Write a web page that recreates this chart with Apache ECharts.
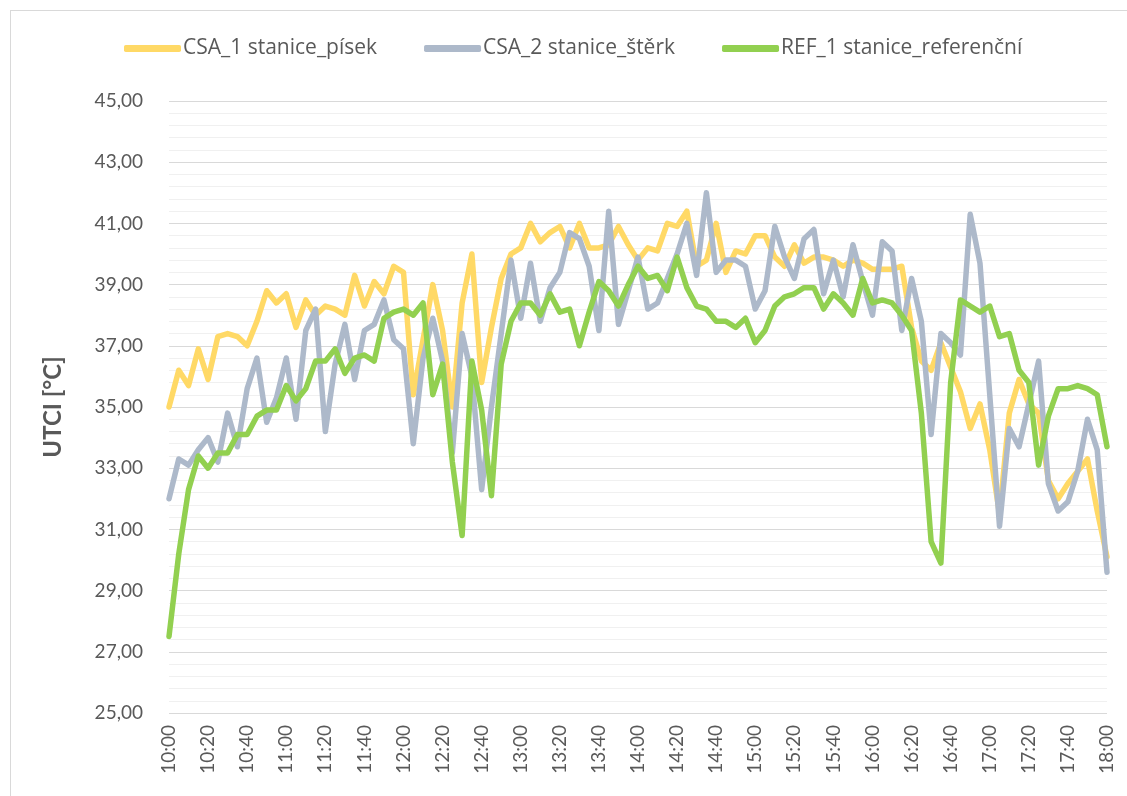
<!DOCTYPE html>
<html>
<head>
<meta charset="utf-8">
<script src="https://cdn.jsdelivr.net/npm/echarts@6/dist/echarts.min.js"></script>
<style>
  html, body { margin: 0; padding: 0; background: #fff; }
  #frame { position: absolute; left: 10px; top: 10px; width: 1130px; height: 800px; border: 1px solid #d9d9d9; }
  #chart { position: absolute; left: 0; top: 0; width: 1127px; height: 796px; }
</style>
</head>
<body>
<div id="frame"></div>
<div id="chart"></div>
<script>
// time of measurement, every 5 minutes
const times = [
  '10:00','10:05','10:10','10:15','10:20','10:25','10:30','10:35','10:40','10:45','10:50','10:55',
  '11:00','11:05','11:10','11:15','11:20','11:25','11:30','11:35','11:40','11:45','11:50','11:55',
  '12:00','12:05','12:10','12:15','12:20','12:25','12:30','12:35','12:40','12:45','12:50','12:55',
  '13:00','13:05','13:10','13:15','13:20','13:25','13:30','13:35','13:40','13:45','13:50','13:55',
  '14:00','14:05','14:10','14:15','14:20','14:25','14:30','14:35','14:40','14:45','14:50','14:55',
  '15:00','15:05','15:10','15:15','15:20','15:25','15:30','15:35','15:40','15:45','15:50','15:55',
  '16:00','16:05','16:10','16:15','16:20','16:25','16:30','16:35','16:40','16:45','16:50','16:55',
  '17:00','17:05','17:10','17:15','17:20','17:25','17:30','17:35','17:40','17:45','17:50','17:55',
  '18:00'
];

const csa1Pisek = [
  35.0, 36.2, 35.7, 36.9, 35.9, 37.3, 37.4, 37.3, 37.0, 37.8, 38.8, 38.4,
  38.7, 37.6, 38.5, 38.0, 38.3, 38.2, 38.0, 39.3, 38.3, 39.1, 38.7, 39.6,
  39.4, 35.4, 37.2, 39.0, 37.5, 35.0, 38.4, 40.0, 35.8, 37.6, 39.2, 40.0,
  40.2, 41.0, 40.4, 40.7, 40.9, 40.2, 41.0, 40.2, 40.2, 40.3, 40.9, 40.3,
  39.8, 40.2, 40.1, 41.0, 40.9, 41.4, 39.6, 39.8, 41.0, 39.4, 40.1, 40.0,
  40.6, 40.6, 39.9, 39.6, 40.3, 39.7, 39.9, 39.9, 39.8, 39.6, 39.8, 39.7,
  39.5, 39.5, 39.5, 39.6, 37.6, 36.5, 36.2, 37.1, 36.3, 35.5, 34.3, 35.1,
  33.6, 31.5, 34.8, 35.9, 35.1, 34.8, 32.6, 32.0, 32.5, 32.9, 33.3, 31.6,
  30.1
];

const csa2Sterk = [
  32.0, 33.3, 33.1, 33.6, 34.0, 33.2, 34.8, 33.7, 35.6, 36.6, 34.5, 35.3,
  36.6, 34.6, 37.5, 38.2, 34.2, 36.4, 37.7, 35.9, 37.5, 37.7, 38.5, 37.2,
  36.9, 33.8, 36.6, 37.9, 36.5, 33.5, 37.4, 36.0, 32.3, 35.0, 37.4, 39.8,
  37.9, 39.7, 37.8, 38.9, 39.4, 40.7, 40.5, 39.6, 37.5, 41.4, 37.7, 38.8,
  39.9, 38.2, 38.4, 39.2, 40.0, 41.0, 39.3, 42.0, 39.4, 39.8, 39.8, 39.6,
  38.2, 38.8, 40.9, 39.9, 39.2, 40.5, 40.8, 38.7, 39.8, 38.6, 40.3, 39.1,
  38.0, 40.4, 40.1, 37.5, 39.2, 37.8, 34.1, 37.4, 37.1, 36.7, 41.3, 39.7,
  35.4, 31.1, 34.3, 33.7, 35.1, 36.5, 32.5, 31.6, 31.9, 32.9, 34.6, 33.6,
  29.6
];

const ref1Referencni = [
  27.5, 30.2, 32.3, 33.4, 33.0, 33.5, 33.5, 34.1, 34.1, 34.7, 34.9, 34.9,
  35.7, 35.2, 35.6, 36.5, 36.5, 36.9, 36.1, 36.6, 36.7, 36.5, 37.9, 38.1,
  38.2, 38.0, 38.4, 35.4, 36.4, 33.2, 30.8, 36.5, 34.9, 32.1, 36.4, 37.8,
  38.4, 38.4, 38.0, 38.7, 38.1, 38.2, 37.0, 38.1, 39.1, 38.8, 38.3, 39.0,
  39.6, 39.2, 39.3, 38.8, 39.9, 38.9, 38.3, 38.2, 37.8, 37.8, 37.6, 37.9,
  37.1, 37.5, 38.3, 38.6, 38.7, 38.9, 38.9, 38.2, 38.7, 38.4, 38.0, 39.2,
  38.4, 38.5, 38.4, 38.0, 37.5, 34.8, 30.6, 29.9, 35.8, 38.5, 38.3, 38.1,
  38.3, 37.3, 37.4, 36.2, 35.8, 33.1, 34.7, 35.6, 35.6, 35.7, 35.6, 35.4,
  33.7
];

const seriesNames = ['CSA_1 stanice_písek', 'CSA_2 stanice_štěrk', 'REF_1 stanice_referenční'];
const seriesColors = ['#FFD966', '#ADB9CA', '#92D050'];

const font = 'Lato, "Open Sans", sans-serif';
const chart = echarts.init(document.getElementById('chart'));

const lineSeries = (name, data, color) => ({
  name: name,
  type: 'line',
  data: data,
  symbol: 'none',
  smooth: false,
  lineStyle: { color: color, width: 5.5, join: 'round', cap: 'round' },
  itemStyle: { color: color },
  emphasis: { disabled: true }
});

chart.setOption({
  animation: false,
  backgroundColor: 'transparent',
  legend: {
    left: 119,
    top: 33,
    icon: 'roundRect',
    itemWidth: 57,
    itemHeight: 7,
    itemGap: 47,
    textStyle: { fontFamily: '"Open Sans", sans-serif', fontSize: 21, color: '#595959', padding: [0, 0, 0, -3] },
    data: seriesNames
  },
  grid: { left: 169, right: 20, top: 101, bottom: 83, containLabel: false },
  xAxis: {
    type: 'category',
    boundaryGap: false,
    data: times,
    axisLine: { show: false },
    axisTick: { show: false },
    axisLabel: {
      interval: 3,
      rotate: 90,
      margin: 12,
      fontFamily: font,
      fontSize: 19,
      color: '#595959'
    },
    splitLine: { show: false }
  },
  yAxis: {
    type: 'value',
    min: 25,
    max: 45,
    interval: 2,
    name: 'UTCI [°C]',
    nameLocation: 'middle',
    nameGap: 104,
    nameTextStyle: { fontFamily: font, fontSize: 24, fontWeight: 'bold', color: '#595959' },
    axisLine: { show: false },
    axisTick: { show: false },
    axisLabel: {
      margin: 26,
      fontFamily: font,
      fontSize: 19,
      color: '#595959',
      formatter: v => v.toFixed(2).replace('.', ',')
    },
    splitLine: { lineStyle: { color: '#d9d9d9', width: 1 } },
    minorTick: { show: false, splitNumber: 5 },
    minorSplitLine: { show: true, lineStyle: { color: '#f0f0f0', width: 1 } }
  },
  series: [
    lineSeries(seriesNames[0], csa1Pisek, seriesColors[0]),
    lineSeries(seriesNames[1], csa2Sterk, seriesColors[1]),
    lineSeries(seriesNames[2], ref1Referencni, seriesColors[2])
  ]
});
</script>
</body>
</html>
